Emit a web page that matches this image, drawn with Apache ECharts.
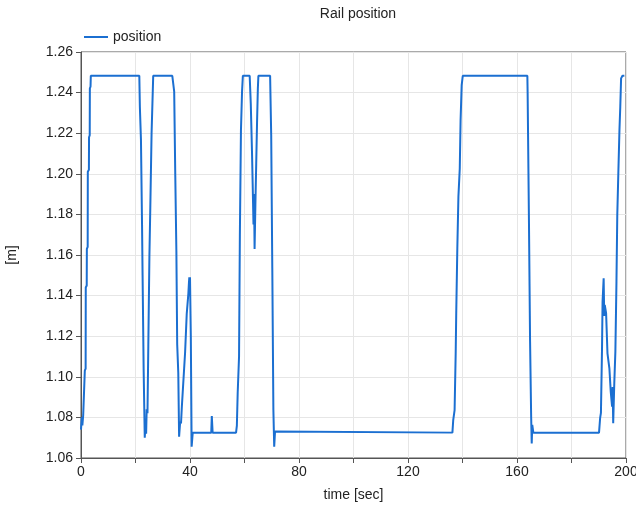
<!DOCTYPE html>
<html>
<head>
<meta charset="utf-8">
<script src="https://cdn.jsdelivr.net/npm/echarts@6/dist/echarts.min.js"></script>
<style>html,body{margin:0;padding:0;background:#fff;}#c{width:636px;height:508px;}</style>
</head>
<body>
<div id="c"></div>
<script>
const seriesName = 'position';
const timeValues = [
0,0.3,0.5,0.8,1.3,1.4,1.7,1.75,2.1,2.15,2.45,2.5,2.9,2.95,3.2,3.25,3.5,3.6,21.4,
21.6,22.0,22.4,22.6,23.0,23.4,23.7,23.9,24.1,24.4,24.7,25.1,25.4,25.9,26.5,33.5,
34.2,34.6,35.0,35.3,35.7,36.0,36.4,36.7,37.0,38.2,38.8,39.4,39.6,39.75,39.9,40.0,40.3,40.6,41.0,47.8,48.0,48.3,56.9,
57.2,57.5,58.0,58.3,58.7,59.1,59.4,61.9,62.3,62.75,63.0,63.3,63.5,63.7,64.0,64.3,64.6,64.9,65.1,69.4,
69.8,70.2,70.6,70.9,71.2,71.5,136.3,136.6,137.1,137.5,137.7,138.1,138.5,139.0,139.3,139.7,140.1,163.8,
163.9,164.2,164.4,164.8,165.2,165.4,165.6,166.0,190.1,190.5,190.8,191.2,191.4,191.8,192.0,192.2,192.7,193.2,
193.9,194.4,194.9,195.1,195.3,195.7,196.1,196.5,196.8,197.2,197.6,197.9,198.2,198.7,199.4
];
const positionValues = [
1.074,1.080,1.076,1.081,1.081,1.103,1.104,1.144,1.145,1.163,1.164,1.201,1.202,1.218,1.219,1.242,1.243,1.2483,1.2483,
1.233,1.217,1.175,1.150,1.1025,1.070,1.078,1.072,1.084,1.082,1.115,1.159,1.181,1.220,1.2483,1.2483,
1.2405,1.199,1.162,1.116,1.102,1.0705,1.078,1.077,1.085,1.112,1.131,1.141,1.146,1.149,1.140,1.149,1.12,1.0656,1.0725,1.0725,1.0807,1.0725,1.0725,
1.076,1.092,1.110,1.170,1.2216,1.2405,1.2483,1.2483,1.2347,1.2109,1.195,1.175,1.19,1.163,1.185,1.205,1.225,1.242,1.2483,1.2483,
1.219,1.1536,1.0836,1.0656,1.073,1.0725,1.0725,1.0787,1.0836,1.1116,1.1313,1.1633,1.1887,1.2027,1.2265,1.2437,1.2483,1.2483,
1.2401,1.201,1.1748,1.1173,1.08,1.0672,1.0763,1.0725,1.0725,1.0796,1.0822,1.114,1.137,1.1485,1.130,1.1354,1.1313,1.1116,
1.1042,1.0927,1.0853,1.095,1.0771,1.0968,1.1124,1.1468,1.1797,1.201,1.2216,1.233,1.247,1.2483,1.2483
];
const xTickLabels = [0, 40, 80, 120, 160, 200];

const data = timeValues.map((t, i) => [t, positionValues[i]]);
const font = 'Liberation Sans, Arial, sans-serif';
const chart = echarts.init(document.getElementById('c'), null, {renderer: 'canvas'});
chart.setOption({
  animation: false,
  backgroundColor: '#ffffff',
  title: {
    text: 'Rail position', left: 353, top: 2, textAlign: 'center',
    textStyle: {fontSize: 14, fontWeight: 'normal', color: '#222', fontFamily: font}
  },
  legend: {
    left: 79, top: 25, icon: 'rect', itemWidth: 24, itemHeight: 2, itemGap: 10,
    textStyle: {fontSize: 14, color: '#222', fontFamily: font},
    data: [seriesName]
  },
  grid: {left: 81, right: 10, top: 52, bottom: 50, show: true, borderColor: '#555', borderWidth: 1,
    backgroundColor: 'transparent', containLabel: false, outerBoundsMode: 'none'},
  xAxis: {
    type: 'value', min: 0, max: 200, interval: 20,
    name: 'time [sec]', nameLocation: 'middle', nameGap: 30,
    nameTextStyle: {fontSize: 14, color: '#222', fontFamily: font},
    axisLine: {show: true, lineStyle: {color: '#555'}},
    axisTick: {show: true, length: 5, lineStyle: {color: '#555'}},
    axisLabel: {fontSize: 14, color: '#222', fontFamily: font, margin: 7, hideOverlap: false,
      formatter: v => xTickLabels.indexOf(v) >= 0 ? String(v) : ''},
    splitLine: {show: true, lineStyle: {color: '#e6e6e6'}}
  },
  yAxis: {
    type: 'value', min: 1.06, max: 1.26, interval: 0.02,
    name: '[m]', nameLocation: 'middle', nameGap: 62, nameRotate: 90,
    nameTextStyle: {fontSize: 14, color: '#222', fontFamily: font},
    axisLine: {show: true, lineStyle: {color: '#555'}},
    axisTick: {show: true, length: 5, lineStyle: {color: '#555'}},
    axisLabel: {fontSize: 14, color: '#222', fontFamily: font, margin: 8, hideOverlap: false,
      formatter: v => v.toFixed(2)},
    splitLine: {show: true, lineStyle: {color: '#e6e6e6'}}
  },
  series: [{
    name: seriesName, type: 'line', data: data, showSymbol: false, symbol: 'none',
    lineStyle: {color: '#1b6fd1', width: 2}, itemStyle: {color: '#1b6fd1'}
  }]
});
</script>
</body>
</html>
